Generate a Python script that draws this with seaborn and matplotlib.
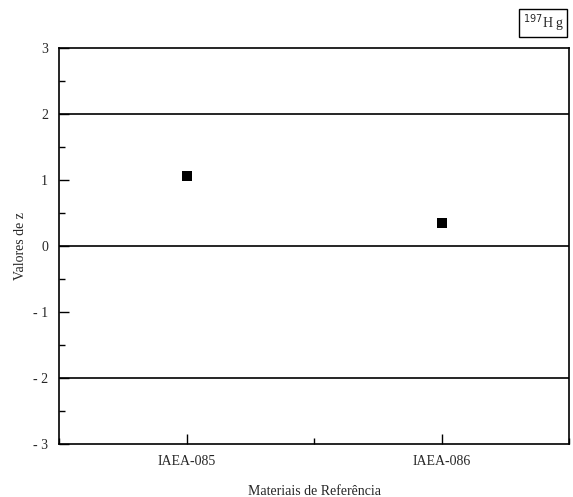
import matplotlib
matplotlib.use("Agg")
import matplotlib.pyplot as plt
import seaborn as sns
import pandas as pd
from matplotlib.ticker import MultipleLocator

categories = ["IAEA-085", "IAEA-086"]
z_values = [1.06, 0.35]
y_ticks = [-3, -2, -1, 0, 1, 2, 3]
ref_lines = [2, 0, -2]

sns.set_theme(style="white")
plt.rcParams['font.family'] = ['Liberation Serif', 'DejaVu Serif']

df = pd.DataFrame({"cat": categories, "z": z_values})

fig = plt.figure(figsize=(5.73, 4.97), dpi=100)
ax = fig.add_axes([59/573, 1 - 444/497, (569 - 59)/573, (444 - 48)/497])

for y in ref_lines:
    ax.axhline(y, color="black", lw=1.2, zorder=1)

sns.scatterplot(data=df, x="cat", y="z", marker="s", s=48, color="black",
                edgecolor="black", linewidth=0, ax=ax, zorder=3)

ax.set_xlim(-0.5, 1.5)
ax.set_ylim(-3, 3)
ax.set_yticks(y_ticks)
ax.set_yticklabels([str(t) if t >= 0 else "- " + str(-t) for t in y_ticks])
ax.yaxis.set_minor_locator(MultipleLocator(0.5))
ax.set_xticks([0, 1])
ax.set_xticklabels(categories)
ax.xaxis.set_minor_locator(MultipleLocator(0.5))

ax.tick_params(axis="both", which="major", direction="in", length=7, width=1,
               labelsize=10, color="black", pad=8)
ax.tick_params(axis="both", which="minor", direction="in", length=4, width=1,
               color="black")
ax.tick_params(axis="y", which="both", left=True, right=False)
ax.tick_params(axis="x", which="both", bottom=True, top=False)

for sp in ax.spines.values():
    sp.set_color("black")
    sp.set_linewidth(1.2)

ax.set_xlabel("Materiais de Referência", fontsize=10, labelpad=12)
ax.set_ylabel("Valores de z", fontsize=10, labelpad=4)

ax.text(0.99, 1.036, r"$^{197}$H g", transform=ax.transAxes, ha="right", va="bottom",
        fontsize=10,
        bbox=dict(boxstyle="square,pad=0.25", fc="white", ec="black", lw=1))

fig.savefig("out.png", dpi=100)
